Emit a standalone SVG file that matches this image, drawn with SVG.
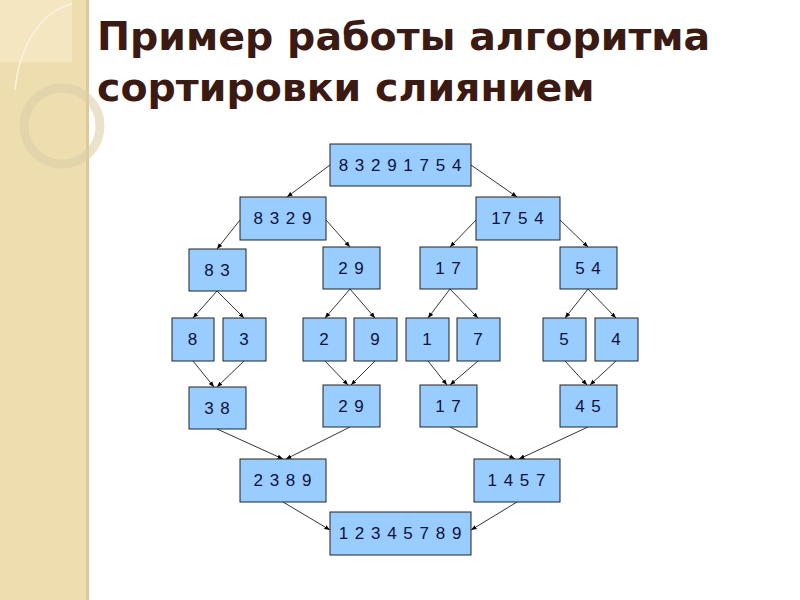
<svg xmlns="http://www.w3.org/2000/svg" width="800" height="600" viewBox="0 0 800 600">
<defs>
<style>
.n rect{fill:#99CCFF;stroke:#222;stroke-width:1}
.n text{font-family:"Liberation Sans",Arial,sans-serif;font-size:17px;fill:#10103a;text-anchor:middle;letter-spacing:1px}
#c line{stroke:#000;stroke-width:0.8;marker-end:url(#a)}
</style>
<marker id="a" viewBox="0 0 10 10" refX="10" refY="5" markerWidth="7" markerHeight="7" orient="auto"><path d="M0,1 L10,5 L0,9 z" fill="#000"/></marker>
</defs>
<rect width="800" height="600" fill="#fff"/>
<rect x="0" y="0" width="88" height="600" fill="#EEDDAE"/>
<rect x="86" y="0" width="3" height="600" fill="#DCC89A"/>
<rect x="0" y="0" width="72" height="62" fill="#F4E8C6" opacity="0.8"/>
<path d="M15,90 C20,40 45,10 72,4" fill="none" stroke="#FAF3DE" stroke-width="1.5"/>
<circle cx="62" cy="126" r="38" fill="none" stroke="#DCCFA8" stroke-width="9" opacity="0.6"/>
<text font-family="'DejaVu Sans',Verdana,sans-serif" font-weight="bold" font-size="39.5" fill="#3A1A12"><tspan x="97" y="50">Пример работы алгоритма</tspan><tspan x="97" y="101">сортировки слиянием</tspan></text>
<g id="c">
<line x1="330" y1="165" x2="287" y2="197"/>
<line x1="471" y1="165" x2="517" y2="197"/>
<line x1="240" y1="220" x2="217" y2="249"/>
<line x1="326" y1="220" x2="350" y2="247"/>
<line x1="476" y1="220" x2="450" y2="247"/>
<line x1="560" y1="220" x2="588" y2="247"/>
<line x1="217" y1="291" x2="193" y2="318"/>
<line x1="217" y1="291" x2="244" y2="318"/>
<line x1="350" y1="289" x2="325" y2="318"/>
<line x1="350" y1="289" x2="375" y2="318"/>
<line x1="450" y1="289" x2="428" y2="318"/>
<line x1="450" y1="289" x2="478" y2="318"/>
<line x1="588" y1="289" x2="565" y2="318"/>
<line x1="588" y1="289" x2="616" y2="318"/>
<line x1="193" y1="361" x2="214" y2="387"/>
<line x1="244" y1="361" x2="217" y2="387"/>
<line x1="325" y1="361" x2="348" y2="385"/>
<line x1="375" y1="361" x2="351" y2="385"/>
<line x1="428" y1="361" x2="447" y2="385"/>
<line x1="478" y1="361" x2="450" y2="385"/>
<line x1="565" y1="361" x2="587" y2="385"/>
<line x1="616" y1="361" x2="590" y2="385"/>
<line x1="217" y1="429" x2="283" y2="459"/>
<line x1="350" y1="427" x2="286" y2="459"/>
<line x1="450" y1="427" x2="515" y2="459"/>
<line x1="588" y1="427" x2="519" y2="459"/>
<line x1="283" y1="502" x2="330" y2="530"/>
<line x1="517" y1="502" x2="471" y2="530"/>
</g>
<g id="n0" class="n"><rect x="330" y="144" width="141" height="42"/><text x="400.5" y="171">8 3 2 9 1 7 5 4</text></g>
<g id="n1" class="n"><rect x="240" y="197" width="86" height="43"/><text x="283" y="224">8 3 2 9</text></g>
<g id="n2" class="n"><rect x="476" y="197" width="84" height="43"/><text x="518" y="224">17 5 4</text></g>
<g id="n3" class="n"><rect x="189" y="249" width="57" height="42"/><text x="217.5" y="276">8 3</text></g>
<g id="n4" class="n"><rect x="323" y="247" width="57" height="42"/><text x="351.5" y="274">2 9</text></g>
<g id="n5" class="n"><rect x="420" y="247" width="57" height="42"/><text x="448.5" y="274">1 7</text></g>
<g id="n6" class="n"><rect x="560" y="247" width="57" height="42"/><text x="588.5" y="274">5 4</text></g>
<g id="l8" class="n"><rect x="172" y="318" width="42" height="43"/><text x="193" y="345">8</text></g>
<g id="l3" class="n"><rect x="223" y="318" width="43" height="43"/><text x="244.5" y="345">3</text></g>
<g id="l2" class="n"><rect x="303" y="318" width="43" height="43"/><text x="324.5" y="345">2</text></g>
<g id="l9" class="n"><rect x="354" y="318" width="43" height="43"/><text x="375.5" y="345">9</text></g>
<g id="l1" class="n"><rect x="406" y="318" width="43" height="43"/><text x="427.5" y="345">1</text></g>
<g id="l7" class="n"><rect x="457" y="318" width="43" height="43"/><text x="478.5" y="345">7</text></g>
<g id="l5" class="n"><rect x="543" y="318" width="43" height="43"/><text x="564.5" y="345">5</text></g>
<g id="l4" class="n"><rect x="595" y="318" width="43" height="43"/><text x="616.5" y="345">4</text></g>
<g id="m1" class="n"><rect x="189" y="387" width="57" height="42"/><text x="217.5" y="414">3 8</text></g>
<g id="m2" class="n"><rect x="323" y="385" width="57" height="42"/><text x="351.5" y="412">2 9</text></g>
<g id="m3" class="n"><rect x="420" y="385" width="57" height="42"/><text x="448.5" y="412">1 7</text></g>
<g id="m4" class="n"><rect x="560" y="385" width="57" height="42"/><text x="588.5" y="412">4 5</text></g>
<g id="m5" class="n"><rect x="240" y="459" width="86" height="43"/><text x="283" y="486">2 3 8 9</text></g>
<g id="m6" class="n"><rect x="474" y="459" width="86" height="43"/><text x="517" y="486">1 4 5 7</text></g>
<g id="m7" class="n"><rect x="330" y="512" width="141" height="43"/><text x="400.5" y="539">1 2 3 4 5 7 8 9</text></g>
</svg>
